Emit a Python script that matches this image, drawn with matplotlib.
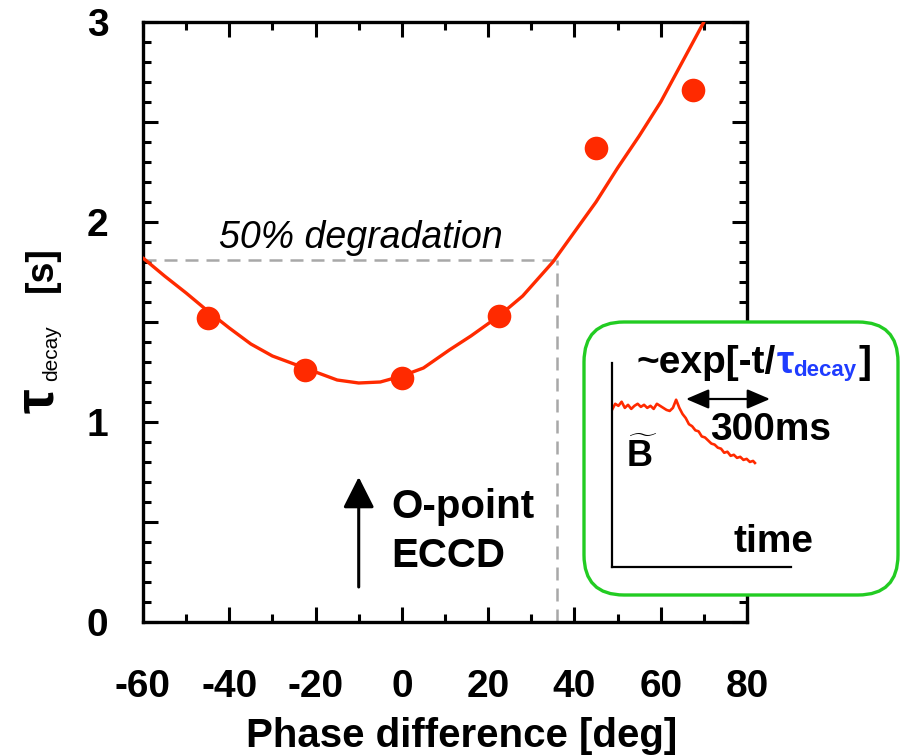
import numpy as np
import matplotlib
matplotlib.use('Agg')
import matplotlib.pyplot as plt
from matplotlib.patches import FancyBboxPatch
from matplotlib.ticker import MultipleLocator, FuncFormatter

plt.rcParams['font.family'] = ['Liberation Sans', 'DejaVu Sans']
plt.rcParams['mathtext.fontset'] = 'custom'
plt.rcParams['mathtext.rm'] = 'Liberation Sans'
plt.rcParams['mathtext.bf'] = 'Liberation Sans:bold'
plt.rcParams['mathtext.it'] = 'Liberation Sans:italic'

# ---------------- data ----------------
phase_pts = [-45, -22.5, 0, 22.5, 45, 67.5]
tau_pts = [1.52, 1.26, 1.22, 1.53, 2.37, 2.66]

fit_phase = [-60, -55, -50, -45, -40, -35, -30, -22.5, -15, -10, -5, 0, 5, 11, 16,
             22.5, 28, 35, 41, 45, 50, 55, 60, 65, 70]
fit_tau = [1.82, 1.73, 1.645, 1.555, 1.47, 1.39, 1.33, 1.27, 1.21, 1.195, 1.20, 1.23,
           1.27, 1.36, 1.43, 1.53, 1.63, 1.80, 1.98, 2.10, 2.27, 2.43, 2.60, 2.80, 3.0]

threshold_tau = 1.81
threshold_phase = 36

# inset trace (time in ms, B in arb. units)
t_ms = [0, 12, 24, 36, 48, 60, 72, 84, 96, 108, 120, 132, 144, 156, 168, 180, 192,
        204, 216, 228, 240,
        252, 264, 276, 288, 300, 312, 324, 336, 348, 360, 372, 384, 396, 408, 420,
        432, 444, 456, 468, 480, 492, 504, 516, 528, 535]
b_au = [0.77, 0.80, 0.79, 0.81, 0.78, 0.795, 0.775, 0.79, 0.80, 0.785, 0.795, 0.78,
        0.79, 0.775, 0.80, 0.79, 0.78, 0.77, 0.765, 0.78, 0.82,
        0.78, 0.75, 0.73, 0.70, 0.69, 0.67, 0.665, 0.64, 0.635, 0.62, 0.605, 0.60,
        0.585, 0.58, 0.56, 0.565, 0.545, 0.55, 0.535, 0.54, 0.525, 0.53, 0.515,
        0.52, 0.51]

RED = '#ff2a00'
GRAY = '#a8a8a8'
BLUE = '#1f3cff'
GREEN = '#22cc22'

W, H = 901, 756
fig = plt.figure(figsize=(W / 100, H / 100), dpi=100)

# ---------------- main axes ----------------
L, R, T, B = 143, 747, 22, 622
ax = fig.add_axes([L / W, 1 - B / H, (R - L) / W, (B - T) / H])
ax.set_xlim(-60, 80)
ax.set_ylim(0, 3)

ax.plot(fit_phase, fit_tau, color=RED, lw=2.4, zorder=3, solid_capstyle='round',
        solid_joinstyle='round')
ax.plot(phase_pts, tau_pts, 'o', ms=17, color=RED, mec='none', zorder=4)

ax.plot([-60, threshold_phase], [threshold_tau, threshold_tau], color=GRAY, lw=1.8,
        dashes=(5.2, 3.2), zorder=2)
ax.plot([threshold_phase, threshold_phase], [0, threshold_tau], color=GRAY, lw=1.8,
        dashes=(5.2, 3.2), zorder=2)

ax.xaxis.set_major_locator(MultipleLocator(20))
ax.xaxis.set_minor_locator(MultipleLocator(10))
ax.yaxis.set_major_locator(MultipleLocator(0.5))
ax.yaxis.set_minor_locator(MultipleLocator(0.1))
ax.xaxis.set_major_formatter(FuncFormatter(lambda v, p: f'{int(round(v))}'))
ax.yaxis.set_major_formatter(
    FuncFormatter(lambda v, p: f'{int(round(v))}' if abs(v - round(v)) < 1e-6 else ''))

ax.tick_params(which='both', direction='in', top=True, right=True, width=2.2,
               color='black')
ax.tick_params(which='major', length=11)
ax.tick_params(which='minor', length=6)
ax.tick_params(axis='x', which='major', pad=34, labelsize=28)
ax.tick_params(axis='y', which='major', pad=25, labelsize=28)
for lab in ax.get_xticklabels() + ax.get_yticklabels():
    lab.set_fontweight('bold')
for s in ax.spines.values():
    s.set_linewidth(2.4)

# annotations in main axes
ax.text(-42.3, 1.87, '50% degradation', style='italic', fontsize=27,
        ha='left', va='baseline', color='black')
ax.annotate('', xy=(-10, 0.725), xytext=(-10, 0.175),
            arrowprops=dict(arrowstyle='-|>,head_length=0.95,head_width=0.48',
                            lw=2.2, color='black', shrinkA=0, shrinkB=0,
                            mutation_scale=20))
ax.text(-2.4, 0.52, 'O-point', fontsize=29, fontweight='bold', ha='left',
        va='baseline')
ax.text(-2.4, 0.275, 'ECCD', fontsize=29, fontweight='bold', ha='left',
        va='baseline')

# ---------------- overlay (pixel coordinates) ----------------
ov = fig.add_axes([0, 0, 1, 1], zorder=10)
ov.set_xlim(0, W)
ov.set_ylim(H, 0)
ov.axis('off')
ov.patch.set_alpha(0)

# x label
ov.text(462, 747, 'Phase difference [deg]', fontsize=29, fontweight='bold',
        ha='center', va='baseline')

# y label pieces (rotated)
ov.text(53, 413, 'τ', fontsize=40, fontweight='bold', rotation=90,
        rotation_mode='anchor', ha='left', va='baseline')
ov.text(57, 381, 'decay', fontsize=15, rotation=90,
        rotation_mode='anchor', ha='left', va='baseline')
ov.text(52, 292, '[s]', fontsize=27, fontweight='bold', rotation=90,
        rotation_mode='anchor', ha='left', va='baseline')

# inset box
box = FancyBboxPatch((584, 322), 314, 273,
                     boxstyle='round,pad=0,rounding_size=40',
                     fc='white', ec=GREEN, lw=2.4, zorder=1)
ov.add_patch(box)

# inset texts
renderer = fig.canvas.get_renderer()


def place(x, y, s, **kw):
    t = ov.text(x, y, s, ha='left', va='baseline', **kw)
    bb = t.get_window_extent(renderer)
    return bb.x1


xb = place(637, 373, '~exp[-t/', fontsize=28, fontweight='bold', zorder=3)
xb = place(xb, 373, 'τ', fontsize=28, fontweight='bold', color=BLUE, zorder=3)
xb = place(xb, 376, 'decay', fontsize=16, fontweight='bold', color=BLUE, zorder=3)
place(xb + 2, 373, ']', fontsize=28, fontweight='bold', zorder=3)

ov.text(710, 440, '300ms', fontsize=28, fontweight='bold', ha='left',
        va='baseline', zorder=3)
ov.text(733, 552, 'time', fontsize=28, fontweight='bold', ha='left',
        va='baseline', zorder=3)
ov.text(626, 467, r'$\mathbf{\widetilde{B}}$', fontsize=26, ha='left',
        va='baseline', zorder=3)
ov.annotate('', xy=(770, 399), xytext=(686, 399),
            arrowprops=dict(arrowstyle='<|-|>,head_length=0.7,head_width=0.3',
                            lw=1.6, color='black', shrinkA=0, shrinkB=0,
                            mutation_scale=20), zorder=3)

# inset trace axes
tr = fig.add_axes([612 / W, 1 - 567 / H, 179 / W, 204 / H], zorder=11)
tr.patch.set_alpha(0)
tr.set_xlim(0, 670)
tr.set_ylim(0, 1)
tr.plot(t_ms, b_au, color=RED, lw=1.9)
for side in ['top', 'right']:
    tr.spines[side].set_visible(False)
for side in ['left', 'bottom']:
    tr.spines[side].set_linewidth(1.6)
tr.set_xticks([])
tr.set_yticks([])

fig.savefig('out.png', dpi=100)
